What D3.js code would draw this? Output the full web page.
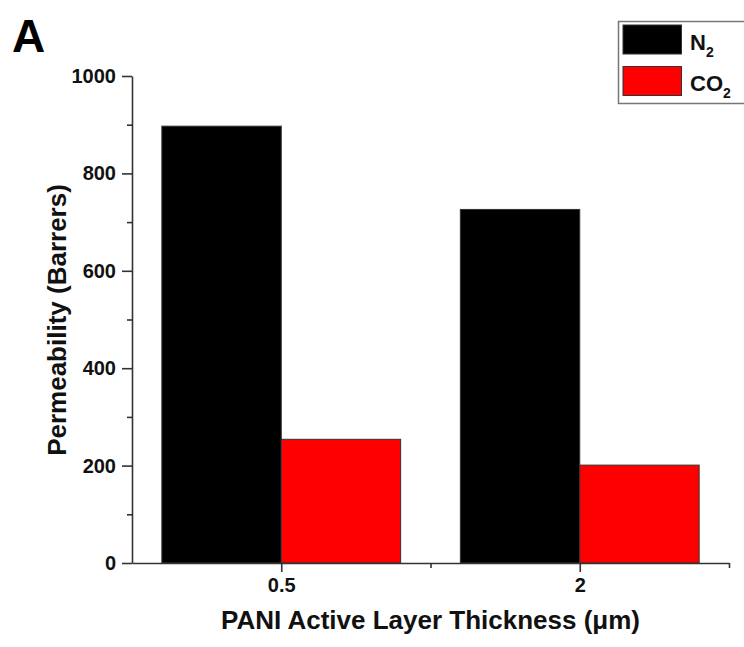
<!DOCTYPE html>
<html>
<head>
<meta charset="utf-8">
<script src="https://cdn.jsdelivr.net/npm/d3@7"></script>
<style>
  body { margin: 0; background: #fff; }
  svg { display: block; font-family: "Liberation Sans", Arial, sans-serif; font-weight: bold; }
</style>
</head>
<body>
<div id="chart"></div>
<script>
// data
const categories = ["0.5", "2"];           // PANI active layer thickness (um)
const seriesNames = ["N2", "CO2"];
const n2Values = [897, 726];
const co2Values = [254, 201];
const yTicks = [0, 200, 400, 600, 800, 1000];

const W = 744, H = 647;
const margin = {top: 76, right: 15, bottom: 84, left: 132};

const svg = d3.select("#chart").append("svg")
    .attr("width", W)
    .attr("height", H);

// x is a linear axis: categories sit on odd positions, minor ticks on even ones
const x = d3.scaleLinear()
    .domain([0, categories.length * 2])
    .range([margin.left, W - margin.right]);

const y = d3.scaleLinear()
    .domain([0, 1000])
    .range([H - margin.bottom, margin.top]);

const barW = 0.8; // in x units

const colors = {N2: "#000000", CO2: "#ff0000"};

// bars
const rows = categories.map((c, i) => ({cat: c, pos: i * 2 + 1, N2: n2Values[i], CO2: co2Values[i]}));

const groups = svg.append("g").selectAll("g")
    .data(rows)
    .enter().append("g");

groups.selectAll("rect")
    .data(d => seriesNames.map((s, j) => ({s: s, pos: d.pos, v: d[s], j: j})))
    .enter().append("rect")
      .attr("x", d => x(d.pos - barW + d.j * barW))
      .attr("width", d => x(barW) - x(0))
      .attr("y", d => y(d.v))
      .attr("height", d => y(0) - y(d.v))
      .style("fill", d => colors[d.s])
      .style("stroke", "#333")
      .style("stroke-width", 1);

// y axis, major + minor ticks
svg.append("g")
    .attr("transform", `translate(${margin.left},0)`)
    .call(d3.axisLeft(y).tickValues(yTicks).tickFormat(d3.format("d"))
        .tickSize(10).tickPadding(6).tickSizeOuter(0));

svg.append("g")
    .attr("transform", `translate(${margin.left},0)`)
    .call(d3.axisLeft(y).tickValues(d3.range(100, 1000, 200)).tickSize(5).tickFormat("").tickSizeOuter(0))
    .select(".domain").remove();

// x axis
svg.append("g")
    .attr("transform", `translate(0,${y(0)})`)
    .call(d3.axisBottom(x).tickValues(rows.map(d => d.pos))
        .tickFormat((d, i) => categories[i]).tickSize(9).tickPadding(6).tickSizeOuter(0));

svg.append("g")
    .attr("transform", `translate(0,${y(0)})`)
    .call(d3.axisBottom(x).tickValues(d3.range(2, categories.length * 2 + 1, 2)).tickSize(5).tickFormat("").tickSizeOuter(0))
    .select(".domain").remove();

svg.selectAll(".domain, .tick line")
    .style("stroke", "#333")
    .style("stroke-width", 1.6);

svg.selectAll(".tick text")
    .style("font-family", "'Liberation Sans', Arial, sans-serif")
    .style("font-weight", "bold")
    .style("font-size", "20px")
    .style("fill", "#111");

// axis titles
svg.append("text")
    .attr("x", (x.range()[0] + x.range()[1]) / 2)
    .attr("y", 629)
    .attr("text-anchor", "middle")
    .style("font-size", "26px")
    .style("fill", "#111")
    .text("PANI Active Layer Thickness (\u03bcm)");

svg.append("text")
    .attr("transform", "translate(66,320) rotate(-90)")
    .attr("text-anchor", "middle")
    .style("font-size", "26px")
    .style("fill", "#111")
    .text("Permeability (Barrers)");

// panel letter
svg.append("text")
    .attr("x", 12)
    .attr("y", 52)
    .style("font-size", "46px")
    .style("fill", "#000")
    .text("A");

// legend
const legend = svg.append("g");

legend.append("rect")
    .attr("x", 618.5)
    .attr("y", 21.5)
    .attr("width", 140)
    .attr("height", 82)
    .style("fill", "#fff")
    .style("stroke", "#777")
    .style("stroke-width", 1.5);

const items = legend.selectAll("g.item")
    .data(seriesNames)
    .enter().append("g")
      .attr("class", "item")
      .attr("transform", (d, i) => `translate(623,${25 + i * 41.5})`);

items.append("rect")
    .attr("width", 58.5)
    .attr("height", 29)
    .style("fill", d => colors[d])
    .style("stroke", "#333")
    .style("stroke-width", 1);

const labels = items.append("text")
    .attr("x", 67)
    .attr("y", 24.5)
    .style("font-size", "22px")
    .style("fill", "#111");

labels.append("tspan").text(d => d.slice(0, -1));
labels.append("tspan")
    .attr("dy", 7)
    .style("font-size", "14px")
    .text(d => d.slice(-1));
</script>
</body>
</html>
